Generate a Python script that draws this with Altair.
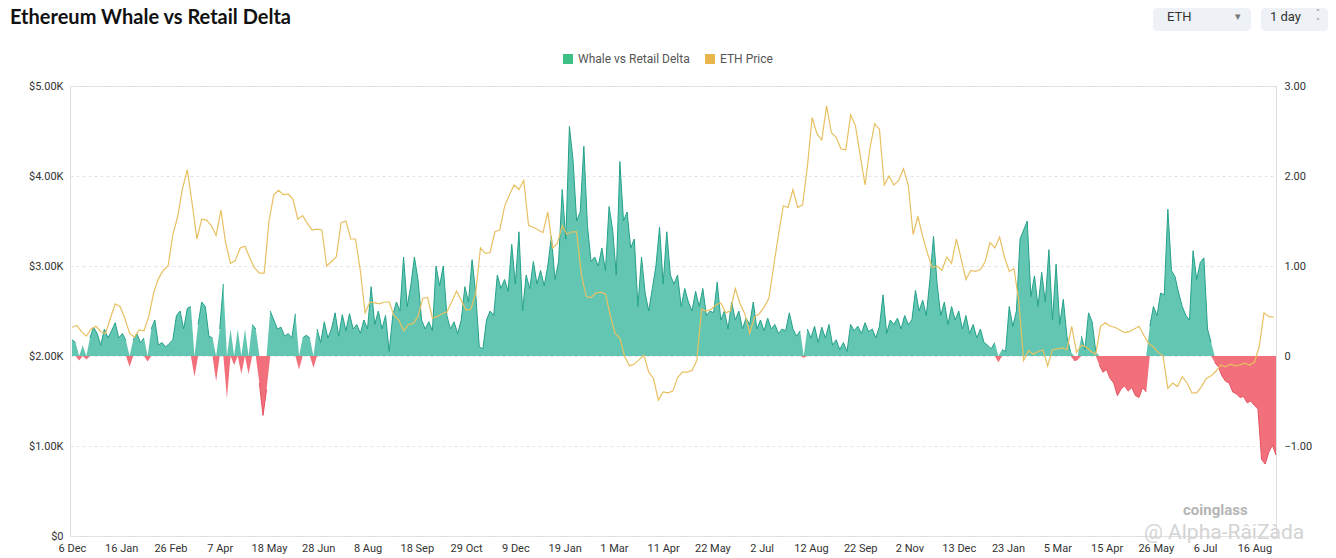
import altair as alt
import pandas as pd

START = "2023-12-06"

# Whale vs Retail Delta, one reading every 3 days from 6 Dec
delta_values = [
    0.18, 0.15, -0.05, 0.12, -0.04, 0.2, 0.32, 0.25, 0.12, 0.3,
    0.2, 0.28, 0.37, 0.2, 0.25, 0.17, -0.12, 0.18, 0.25, 0.15,
    0.2, -0.06, 0.3, 0.4, 0.12, 0.15, 0.1, 0.14, 0.18, 0.45,
    0.5, 0.3, 0.53, 0.55, -0.23, 0.35, 0.6, 0.55, 0.22, 0.2,
    -0.28, 0.3, 0.8, -0.47, 0.3, -0.1, 0.3, -0.2, 0.3, -0.2,
    0.35, 0.3, -0.3, -0.66, -0.37, 0.5, 0.4, 0.3, 0.32, 0.22,
    0.25, 0.2, 0.47, -0.15, 0.2, 0.23, 0.2, -0.13, 0.3, 0.15,
    0.38, 0.2, 0.3, 0.48, 0.22, 0.46, 0.28, 0.47, 0.3, 0.35,
    0.25, 0.4, 0.3, 0.77, 0.35, 0.5, 0.3, 0.45, 0.05, 0.45,
    0.6, 0.5, 1.1, 0.55, 0.78, 1.1, 0.85, 0.4, 0.3, 0.38,
    0.28, 1.0, 0.78, 1.0, 0.45, 0.3, 0.38, 0.25, 0.4, 0.77,
    0.6, 1.07, 0.7, 0.1, 0.08, 0.4, 0.5, 0.45, 0.9, 0.75,
    0.85, 0.72, 1.24, 0.8, 1.38, 0.5, 0.9, 0.75, 1.05, 0.8,
    0.95, 0.78, 1.0, 1.33, 0.85, 1.05, 1.85, 1.3, 2.55, 2.18,
    1.5, 1.6, 2.33, 1.45, 1.05, 1.1, 1.0, 1.2, 0.95, 1.66,
    1.4, 0.9, 2.16, 1.5, 1.6, 1.2, 1.3, 0.55, 1.1, 0.7,
    0.5, 0.75, 1.0, 1.43, 0.8, 1.38, 0.9, 0.8, 0.9, 0.55,
    0.75, 0.6, 0.5, 0.72, 0.55, 0.75, 0.45, 0.5, 0.48, 0.82,
    0.4, 0.5, 0.3, 0.6, 0.4, 0.5, 0.3, 0.42, 0.35, 0.6,
    0.3, 0.4, 0.28, 0.42, 0.3, 0.35, 0.25, 0.3, 0.28, 0.48,
    0.3, 0.22, 0.28, -0.02, 0.3, 0.2, 0.33, 0.15, 0.32, 0.2,
    0.35, 0.12, 0.18, 0.07, 0.15, 0.05, 0.35, 0.28, 0.33, 0.25,
    0.37, 0.27, 0.3, 0.2, 0.33, 0.68, 0.25, 0.4, 0.35, 0.42,
    0.3, 0.45, 0.35, 0.4, 0.73, 0.5, 0.62, 0.45, 0.85, 1.33,
    0.8, 0.45, 0.6, 0.35, 0.55, 0.4, 0.5, 0.3, 0.45, 0.25,
    0.35, 0.2, 0.3, 0.15, 0.12, 0.08, 0.15, -0.07, 0.07, 0.05,
    0.55, 0.33, 0.5, 1.3, 1.4, 1.5, 0.66, 0.89, 0.55, 0.93,
    0.6, 1.18, 0.4, 1.02, 0.35, 0.63, 0.22, 0.05, -0.05, -0.04,
    0.22, 0.07, 0.48, 0.38, 0.05, -0.1, -0.18, -0.15, -0.25, -0.3,
    -0.44, -0.37, -0.33, -0.39, -0.35, -0.44, -0.46, -0.35, -0.4, 0.33,
    0.55, 0.45, 0.7, 0.68, 1.63, 0.95, 0.88, 0.7, 0.55, 0.45,
    0.4, 1.17, 0.85, 1.04, 1.09, 0.3, 0.15, -0.07, -0.12, -0.22,
    -0.28, -0.3, -0.4, -0.42, -0.46, -0.45, -0.52, -0.5, -0.55, -0.59,
    -1.15, -1.2, -1.07, -0.99, -1.1,
]

# ETH price (USD), one reading every 4 days from 6 Dec
price_values = [
    2320, 2340, 2270, 2220, 2300, 2330, 2270, 2250, 2420, 2580,
    2550, 2420, 2250, 2210, 2290, 2280, 2440, 2700, 2860, 2950,
    3000, 3350, 3550, 3860, 4070, 3700, 3300, 3520, 3510, 3450,
    3340, 3620, 3250, 3030, 3060, 3200, 3220, 3090, 2980, 2920,
    2920, 3500, 3790, 3840, 3790, 3800, 3740, 3520, 3560, 3470,
    3400, 3410, 3400, 3000, 3050, 3100, 3480, 3500, 3300, 3300,
    2950, 2480, 2600, 2590, 2580, 2600, 2600, 2450, 2400, 2280,
    2350, 2360, 2440, 2640, 2650, 2420, 2440, 2470, 2490, 2600,
    2720, 2620, 2510, 2520, 2700, 3200, 3140, 3150, 3380, 3400,
    3660, 3790, 3900, 3850, 3950, 3450, 3430, 3400, 3370, 3600,
    3200, 3250, 3450, 3350, 3380, 3380, 2900, 2660, 2650, 2700,
    2710, 2690, 2450, 2250, 2200, 1990, 1890, 1910, 1960, 2010,
    1820, 1750, 1510, 1600, 1590, 1610, 1760, 1820, 1820, 1840,
    1950, 2520, 2500, 2520, 2570, 2590, 2480, 2500, 2750, 2580,
    2470, 2250, 2430, 2470, 2540, 2640, 3000, 3350, 3670, 3650,
    3850, 3650, 3680, 4100, 4650, 4470, 4400, 4780, 4480, 4430,
    4300, 4290, 4680, 4560, 4230, 3900, 4300, 4580, 4520, 3900,
    4000, 3900, 3950, 4080, 3900, 3350, 3550, 3330, 3140, 2980,
    3000, 2950, 3100, 3030, 3300, 3080, 2850, 2950, 2940, 2960,
    3050, 3260, 3200, 3320, 3100, 2940, 2970, 2600, 1950, 2060,
    2020, 2050, 2070, 1890, 2070, 2080, 2090, 2070, 2330, 2040,
    2120, 2100, 2050, 2020, 2330, 2370, 2330, 2320, 2290, 2260,
    2270, 2300, 2330, 2230, 2140, 2100, 2040, 2000, 1640, 1700,
    1660, 1770, 1700, 1590, 1590, 1660, 1750, 1780, 1830, 1900,
    1880, 1910, 1890, 1900, 1920, 1900, 1930, 2100, 2480, 2440,
    2430,
]

x_tick_dates = [
    "2023-12-06", "2024-01-16", "2024-02-26", "2024-04-07", "2024-05-18",
    "2024-06-28", "2024-08-08", "2024-09-18", "2024-10-29", "2024-12-09",
    "2025-01-19", "2025-03-01", "2025-04-11", "2025-05-22", "2025-07-02",
    "2025-08-12", "2025-09-22", "2025-11-02", "2025-12-13", "2026-01-23",
    "2026-03-05", "2026-04-15", "2026-05-26", "2026-07-06", "2026-08-16",
]
price_ticks = [0, 1000, 2000, 3000, 4000, 5000]
delta_ticks = [-1, 0, 1, 2, 3]

TITLE = "Ethereum Whale vs Retail Delta"
LEGEND_DELTA = "Whale vs Retail Delta"
LEGEND_PRICE = "ETH Price"

GREEN_FILL = "#62c6b2"
GREEN_EDGE = "#25a18a"
RED_FILL = "#f2707b"
RED_EDGE = "#e4525f"
GOLD = "#e8c062"
FONT = "Roboto"


def ms(s):
    return int(pd.Timestamp(s, tz="UTC").timestamp() * 1000)


d_dates = pd.date_range(START, periods=len(delta_values), freq="3D").strftime("%Y-%m-%d")
ddf = pd.DataFrame({"date": list(d_dates), "v": delta_values})
ddf["pos"] = ddf["v"].clip(lower=0)
ddf["neg"] = ddf["v"].clip(upper=0)
ddf["pos_line"] = ddf["v"].where(ddf["v"] > 0)
ddf["neg_line"] = ddf["v"].where(ddf["v"] < 0)

p_dates = pd.date_range(START, periods=len(price_values), freq="4D").strftime("%Y-%m-%d")
pdf = pd.DataFrame({"date": list(p_dates), "price": price_values})

x_domain = [ms("2023-12-06") - int(1.6 * 86400000), ms("2026-09-03")]
x_enc = alt.X(
    "date:T",
    scale=alt.Scale(type="utc", domain=x_domain),
    axis=alt.Axis(
        values=[ms(s) for s in x_tick_dates], format="%-d %b", title=None,
        grid=False, domain=False, ticks=False, labelPadding=6,
        labelFontSize=11, labelFont=FONT, labelColor="#333333",
        labelFlush=False, labelOverlap=False,
    ),
)

delta_axis = alt.Axis(
    orient="right", values=delta_ticks, title=None, grid=False, domain=False,
    ticks=False, labelPadding=8, labelFontSize=11, labelFont=FONT,
    labelColor="#333333",
    labelExpr="datum.value == 0 ? '0' : format(datum.value, '.2f')",
)
delta_scale = alt.Scale(domain=[-2, 3], nice=False, zero=False)

base_d = alt.Chart(ddf)
green_area = base_d.mark_area(color=GREEN_FILL, opacity=1).encode(
    x=x_enc, y=alt.Y("pos:Q", scale=delta_scale, axis=delta_axis), y2=alt.datum(0)
)
red_area = base_d.mark_area(color=RED_FILL, opacity=1).encode(
    x=x_enc, y=alt.Y("neg:Q", scale=delta_scale, axis=delta_axis), y2=alt.datum(0)
)
green_line = base_d.mark_line(color=GREEN_EDGE, strokeWidth=1).encode(
    x=x_enc, y=alt.Y("pos_line:Q", scale=delta_scale, axis=delta_axis)
)
red_line = base_d.mark_line(color=RED_EDGE, strokeWidth=1).encode(
    x=x_enc, y=alt.Y("neg_line:Q", scale=delta_scale, axis=delta_axis)
)
delta_layer = alt.layer(green_area, red_area, green_line, red_line)

price_line = alt.Chart(pdf).mark_line(color=GOLD, strokeWidth=1.2).encode(
    x=x_enc,
    y=alt.Y(
        "price:Q",
        scale=alt.Scale(domain=[0, 5000], nice=False, zero=False),
        axis=alt.Axis(
            orient="left", values=price_ticks, title=None, grid=True,
            gridDash=[3, 3], gridColor="#e4e4e4", domain=False, ticks=False,
            labelPadding=7, labelFontSize=11, labelFont=FONT,
            labelColor="#333333",
            labelExpr="datum.value == 0 ? '$0' : '$' + format(datum.value / 1000, '.2f') + 'K'",
        ),
    ),
)

one = pd.DataFrame({"k": [0]})


def txt(t, x, y, size, color, weight="normal", align="left", font=FONT, baseline="middle"):
    return alt.Chart(one).mark_text(
        text=t, align=align, baseline=baseline, fontSize=size, color=color,
        fontWeight=weight, font=font,
    ).encode(x=alt.value(x), y=alt.value(y))


def box(x1, x2, y1, y2, fill):
    return alt.Chart(one).mark_rect(fill=fill, cornerRadius=4).encode(
        x=alt.value(x1), x2=alt.value(x2), y=alt.value(y1), y2=alt.value(y2)
    )


def square(x, y, color):
    return alt.Chart(one).mark_square(size=100, color=color, opacity=1).encode(
        x=alt.value(x), y=alt.value(y)
    )


decor = [
    txt(TITLE, -60, -62, 20, "#111111", weight="bold", font="Lato", baseline="alphabetic"),
    square(498, -27, "#3dbf86"),
    txt(LEGEND_DELTA, 508, -27, 12, "#555555"),
    square(640, -27, "#e8b64c"),
    txt(LEGEND_PRICE, 650, -27, 12, "#555555"),
    box(1083, 1181, -78, -55, "#eef1f5"),
    txt("ETH", 1097, -69, 13, "#333333"),
    txt("▾", 1165, -69, 11, "#777777", font="DejaVu Sans"),
    box(1191, 1258, -78, -55, "#eef1f5"),
    txt("1 day", 1200, -69, 13, "#333333"),
    txt("˄", 1246, -72, 8, "#777777", font="DejaVu Sans"),
    txt("˅", 1246, -63, 8, "#777777", font="DejaVu Sans"),
    txt("coinglass", 1113, 424, 15, "#b5b5b5", weight="bold"),
    txt("@ Alpha-RâiZàda", 1074, 447, 21, "#d4d4d4"),
]

chart = alt.layer(delta_layer, price_line, *decor).resolve_scale(y="independent").properties(
    width=1206,
    height=450,
    autosize=alt.AutoSizeParams(type="none"),
    padding={"left": 62, "top": 78, "right": 52, "bottom": 20},
).configure_view(stroke=None).configure(background="white")

chart.save("out.html", embed_options={"renderer": "svg", "actions": False})
